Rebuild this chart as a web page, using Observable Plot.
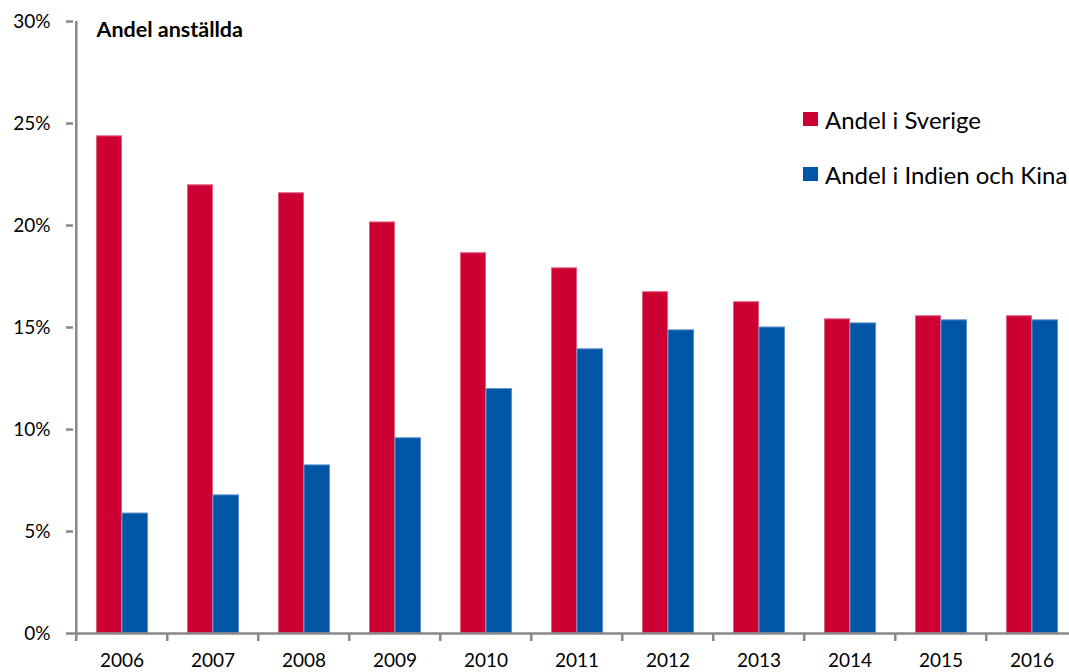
<!DOCTYPE html>
<html>
<head>
<meta charset="utf-8">
<script src="https://cdn.jsdelivr.net/npm/d3@7"></script>
<script src="https://cdn.jsdelivr.net/npm/@observablehq/plot@0.6"></script>
<style>
  body { margin: 0; background: #fff; }
  #wrap { position: relative; width: 1069px; height: 672px; overflow: hidden; font-family: Lato, "Open Sans", sans-serif; }
  #legend { position: absolute; left: 803px; top: 104px; font-size: 24px; color: #000; }
  .item { display: flex; align-items: center; height: 30px; margin-bottom: 25px; white-space: nowrap; }
  .sw { width: 15px; height: 14px; margin-right: 7px; }
</style>
</head>
<body>
<div id="wrap"></div>
<script>
const years = ["2006","2007","2008","2009","2010","2011","2012","2013","2014","2015","2016"];
const seriesNames = ["Andel i Sverige", "Andel i Indien och Kina"];
const colors = ["#CC0033", "#0055A5"];
const strokes = ["#E06080", "#5A8FD0"];
const sverige = [0.2437, 0.2197, 0.2158, 0.2015, 0.1864, 0.1790, 0.1673, 0.1624, 0.1540, 0.1555, 0.1555];
const indienKina = [0.0588, 0.0677, 0.0824, 0.0957, 0.1198, 0.1393, 0.1486, 0.1500, 0.1520, 0.1535, 0.1535];
const yTicks = [0, 0.05, 0.10, 0.15, 0.20, 0.25, 0.30];
const title = "Andel anställda";

const dataS = years.map((y, i) => ({year: y, value: sverige[i]}));
const dataI = years.map((y, i) => ({year: y, value: indienKina[i]}));

const bandW = (1079 - 73) / years.length;

const chart = Plot.plot({
  width: 1069,
  height: 672,
  marginLeft: 73,
  marginTop: 21,
  marginBottom: 39,
  marginRight: 0,
  style: {fontFamily: "Lato, 'Open Sans', sans-serif", fontSize: "19px", color: "#000", background: "#fff"},
  x: {type: "band", domain: years, range: [73, 1079], padding: 0, label: null},
  y: {domain: [0, 0.30], range: [633, 21], label: null},
  marks: [
    Plot.barY(dataS, {x: "year", y: "value", fill: colors[0], stroke: strokes[0], strokeWidth: 1,
      insetLeft: 20.5, insetRight: bandW - 46}),
    Plot.barY(dataI, {x: "year", y: "value", fill: colors[1], stroke: strokes[1], strokeWidth: 1,
      insetLeft: 46, insetRight: bandW - 72}),
    Plot.ruleX([0], {x: () => years[0], dx: -bandW / 2, y1: 0, y2: 0.30, stroke: "#898989", strokeWidth: 2.5}),
    Plot.ruleY([0], {stroke: "#898989", strokeWidth: 2.5}),
    Plot.axisY({ticks: yTicks, tickFormat: d3.format(".0%"), tickSize: 7, tickPadding: 16, label: null,
      stroke: "#898989", strokeWidth: 2.5, fill: "#000", fontSize: 19}),
    Plot.axisX({tickSize: 8, text: null, label: null, dx: -bandW / 2, stroke: "#898989", strokeWidth: 2.5}),
    Plot.axisX({tickSize: 0, tickPadding: 20, fill: "#000", fontSize: 19, label: null}),
    Plot.text([title], {frameAnchor: "top-left", dx: 23, dy: 0, fontWeight: "bold", fontSize: 21.5, fill: "#000", lineAnchor: "top"})
  ]
});

const wrap = document.getElementById("wrap");
wrap.appendChild(chart);
const legend = document.createElement("div");
legend.id = "legend";
seriesNames.forEach((name, i) => {
  const item = document.createElement("div");
  item.className = "item";
  const sw = document.createElement("span");
  sw.className = "sw";
  sw.style.background = colors[i];
  const t = document.createElement("span");
  t.textContent = name;
  item.appendChild(sw);
  item.appendChild(t);
  legend.appendChild(item);
});
wrap.appendChild(legend);
</script>
</body>
</html>
